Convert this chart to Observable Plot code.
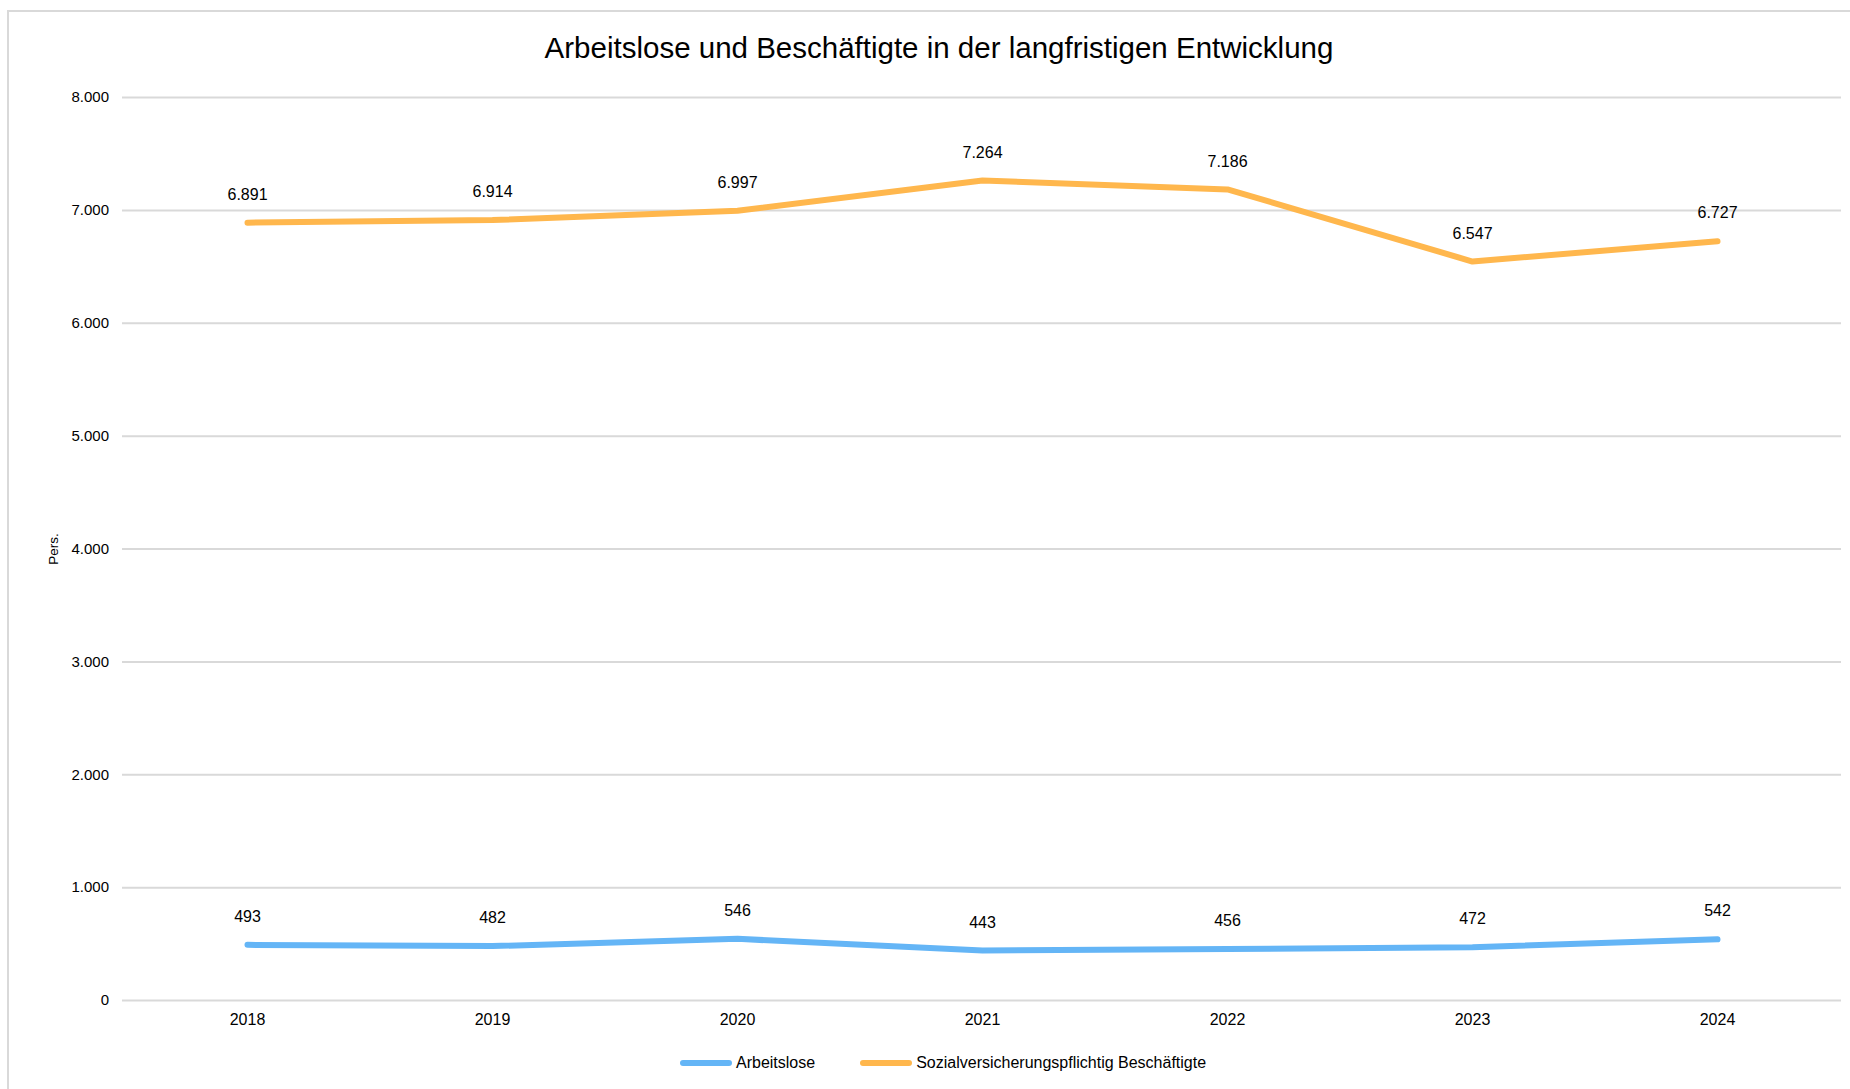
<!DOCTYPE html>
<html>
<head>
<meta charset="utf-8">
<script src="https://cdn.jsdelivr.net/npm/d3@7"></script>
<script src="https://cdn.jsdelivr.net/npm/@observablehq/plot@0.6"></script>
<style>
  html, body { margin: 0; padding: 0; background: #fff; }
  body { width: 1850px; height: 1089px; overflow: hidden; position: relative; font-family: "Liberation Sans", Arial, sans-serif; }
  #frame { position: absolute; left: 7px; top: 10px; width: 1900px; height: 1200px; border: 2px solid #d9d9d9; box-sizing: border-box; }
  #plot { position: absolute; left: 0; top: 0; }
  #title { position: absolute; left: 939px; top: 33px; transform: translateX(-50%); font-size: 29.5px; line-height: 30px; white-space: nowrap; color: #000; }
  #legend { position: absolute; top: 1053px; left: 680px; display: flex; align-items: center; font-size: 16px; line-height: 20px; color: #000; white-space: nowrap; }
  .sw { display: inline-block; width: 52px; height: 6px; border-radius: 3px; margin-right: 4px; }
  .item { display: flex; align-items: center; }
</style>
</head>
<body>
<div id="frame"></div>
<div id="plot"></div>
<div id="title"></div>
<div id="legend"></div>
<script>
const title = "Arbeitslose und Beschäftigte in der langfristigen Entwicklung";
const years = ["2018", "2019", "2020", "2021", "2022", "2023", "2024"];
const seriesNames = ["Arbeitslose", "Sozialversicherungspflichtig Beschäftigte"];
const seriesColors = ["#64B5F6", "#FFB74D"];
const arbeitslose = [493, 482, 546, 443, 456, 472, 542];
const beschaeftigte = [6891, 6914, 6997, 7264, 7186, 6547, 6727];
const yTicks = [0, 1000, 2000, 3000, 4000, 5000, 6000, 7000, 8000];
const yLabel = "Pers.";

const de = d3.formatLocale({decimal: ",", thousands: ".", grouping: [3], currency: ["", " €"]});
const fmt = de.format(",d");

const rows = [];
[arbeitslose, beschaeftigte].forEach((vals, s) => {
  vals.forEach((v, i) => rows.push({year: years[i], value: v, series: seriesNames[s]}));
});

document.getElementById("title").textContent = title;

const chart = Plot.plot({
  width: 1850,
  height: 1040,
  marginLeft: 122,
  marginRight: 9,
  marginTop: 97,
  marginBottom: 40,
  style: {fontFamily: "'Liberation Sans', Arial, sans-serif", fontSize: "16px", color: "#000", background: "transparent", overflow: "visible"},
  x: {type: "point", domain: years, padding: 0.5, label: null},
  y: {domain: [0, 8000], label: null},
  color: {domain: seriesNames, range: seriesColors},
  marks: [
    Plot.gridY(yTicks, {stroke: "#d9d9d9", strokeOpacity: 1, strokeWidth: 2}),
    Plot.axisY(yTicks, {tickSize: 0, tickPadding: 15, tickFormat: () => "", label: yLabel, labelAnchor: "center", labelArrow: "none", labelOffset: 74, fontSize: 13.5}),
    Plot.axisY(yTicks, {tickSize: 0, tickPadding: 13.5, tickFormat: fmt, label: null, fontSize: 15}),
    Plot.axisX({tickSize: 0, tickPadding: 13, label: null}),
    Plot.line(rows, {x: "year", y: "value", z: "series", stroke: "series", strokeWidth: 6, strokeLinecap: "round", strokeLinejoin: "round", curve: "linear"}),
    Plot.text(rows, {x: "year", y: "value", text: d => fmt(d.value), dy: -28, fill: "#000"})
  ]
});
document.getElementById("plot").appendChild(chart);

const legend = document.getElementById("legend");
seriesNames.forEach((name, i) => {
  const item = document.createElement("div");
  item.className = "item";
  if (i > 0) item.style.marginLeft = "45px";
  const sw = document.createElement("span");
  sw.className = "sw";
  sw.style.background = seriesColors[i];
  const t = document.createElement("span");
  t.textContent = name;
  item.appendChild(sw);
  item.appendChild(t);
  legend.appendChild(item);
});
</script>
</body>
</html>
